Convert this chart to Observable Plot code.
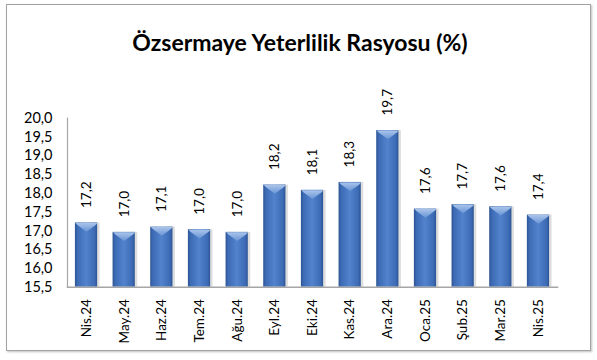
<!DOCTYPE html>
<html>
<head>
<meta charset="utf-8">
<script src="https://cdn.jsdelivr.net/npm/d3@7"></script>
<script src="https://cdn.jsdelivr.net/npm/@observablehq/plot@0.6"></script>
<style>
  html, body { margin: 0; padding: 0; background: #fff; }
  #wrap { position: relative; width: 597px; height: 360px; overflow: hidden; font-family: Lato, "Open Sans", sans-serif; }
  #frame { position: absolute; left: 6px; top: 4px; width: 583px; height: 345px; border: 1.5px solid #a3a3a3; box-shadow: 1px 1px 2px rgba(0,0,0,0.25); pointer-events: none; }
  #title { position: absolute; left: 0; top: 28px; width: 600px; text-align: center; font-weight: bold; font-size: 23px; color: #000; }
  #chart { position: absolute; left: 0; top: 0; }
</style>
</head>
<body>
<div id="wrap">
  <div id="frame"></div>
  <div id="title">Özsermaye Yeterlilik Rasyosu (%)</div>
  <div id="chart"></div>
</div>
<script>
const months = ["Nis.24","May.24","Haz.24","Tem.24","Ağu.24","Eyl.24","Eki.24","Kas.24","Ara.24","Oca.25","Şub.25","Mar.25","Nis.25"];
const values = [17.21, 16.96, 17.10, 17.03, 16.96, 18.22, 18.08, 18.29, 19.67, 17.58, 17.70, 17.64, 17.42];
const yTicks = [15.5, 16.0, 16.5, 17.0, 17.5, 18.0, 18.5, 19.0, 19.5, 20.0];
const yDomain = [15.5, 20.0];

const data = months.map((m, i) => ({month: m, value: values[i]}));
const fmt = v => d3.format(".1f")(v).replace(".", ",");

// bevel shape drawn at top of each bar (decorative)
const bevel = {
  draw(ctx, size) {
    const r = Math.sqrt(size / Math.PI);
    ctx.moveTo(-r, 0);
    ctx.lineTo(r, 0);
    ctx.lineTo(r - 2, 2);
    ctx.lineTo(0, r * 0.78);
    ctx.lineTo(-r + 2, 2);
    ctx.closePath();
  }
};

const chart = Plot.plot({
  width: 597,
  height: 360,
  marginLeft: 67,
  marginRight: 40,
  marginTop: 117.7,
  marginBottom: 73.3,
  style: {fontFamily: "Lato, 'Open Sans', sans-serif", fontSize: "13px", color: "#000", background: "transparent", overflow: "visible"},
  x: {domain: months, paddingInner: 0.41, paddingOuter: 0.21, round: false, label: null},
  y: {domain: yDomain, label: null},
  marks: [
    // bar shadows
    Plot.barY(data, {x: "month", y1: yDomain[0], y2: "value", fill: "#000", fillOpacity: 0.13, dx: 2.5, dy: 0}),
    Plot.barY(data, {x: "month", y1: yDomain[0], y2: "value", fill: "url(#barGrad)"}),
    Plot.dot(data, {x: "month", y: "value", symbol: bevel, r: 11.1, fill: "url(#bevelGrad)", stroke: "none"}),
    Plot.text(data, {x: "month", y: "value", text: d => fmt(d.value), rotate: -90, textAnchor: "start", lineAnchor: "middle", dy: -15, fontSize: 13.5, fill: "#000"}),
    Plot.axisY({ticks: yTicks, tickFormat: fmt, tickSize: 0, tickPadding: 15, fontSize: 14.5, label: null}),
    Plot.axisX({rotate: -90, textAnchor: "end", lineAnchor: "middle", tickSize: 0, tickPadding: 12, fontSize: 13.5, label: null}),
    Plot.frame({anchor: "left", stroke: "#a6a6a6", strokeWidth: 1.2}),
    Plot.frame({anchor: "bottom", stroke: "#a6a6a6", strokeWidth: 1.5})
  ]
});

chart.insertAdjacentHTML("afterbegin", `
<defs>
  <linearGradient id="barGrad" x1="0" y1="0" x2="1" y2="0">
    <stop offset="0" stop-color="#2c5494"/>
    <stop offset="0.12" stop-color="#3d6bb5"/>
    <stop offset="0.5" stop-color="#5283cc"/>
    <stop offset="0.88" stop-color="#3d6bb5"/>
    <stop offset="1" stop-color="#2c5494"/>
  </linearGradient>
  <linearGradient id="bevelGrad" x1="0" y1="0" x2="0" y2="1">
    <stop offset="0" stop-color="#a9c4ea"/>
    <stop offset="1" stop-color="#6a95d6"/>
  </linearGradient>
</defs>`);

document.getElementById("chart").appendChild(chart);
</script>
</body>
</html>
